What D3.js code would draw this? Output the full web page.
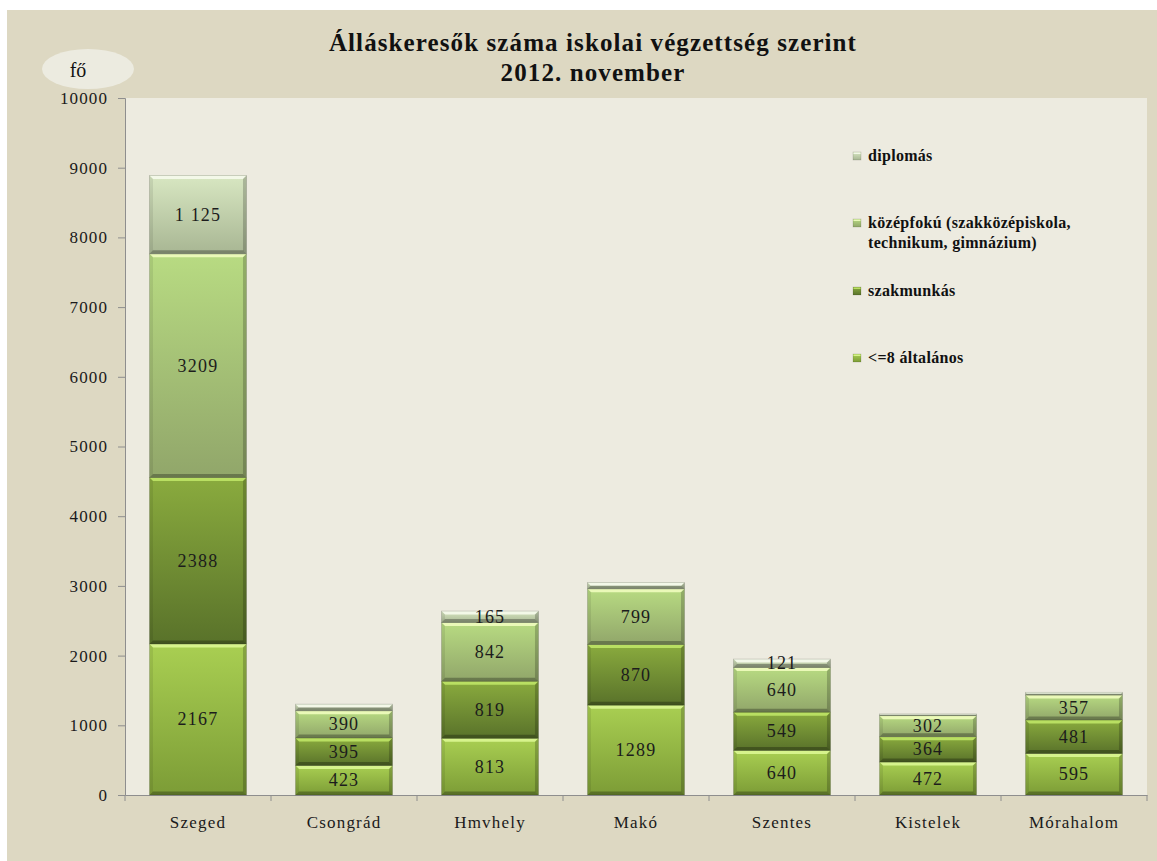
<!DOCTYPE html>
<html>
<head>
<meta charset="utf-8">
<script src="https://cdn.jsdelivr.net/npm/d3@7"></script>
<style>
  body { margin: 0; background: #fff; }
  text { font-family: 'Liberation Serif', 'Times New Roman', serif; }
</style>
</head>
<body>
<div id="graph"></div>
<script>
// data
var categories = ['Szeged', 'Csongrád', 'Hmvhely', 'Makó', 'Szentes', 'Kistelek', 'Mórahalom'];
var altalanos  = [2167, 423, 813, 1289, 640, 472, 595];
var szakmunkas = [2388, 395, 819, 870, 549, 364, 481];
var kozepfoku  = [3209, 390, 842, 799, 640, 302, 357];
var diplomas   = [1125, 95, 165, 90, 121, 25, 40];
var yTicks = [0, 1000, 2000, 3000, 4000, 5000, 6000, 7000, 8000, 9000, 10000];

var seriesKeys = ['altalanos', 'szakmunkas', 'kozepfoku', 'diplomas'];
var seriesNames = {
    altalanos: '<=8 általános',
    szakmunkas: 'szakmunkás',
    kozepfoku: ['középfokú (szakközépiskola,', 'technikum, gimnázium)'],
    diplomas: 'diplomás'
};
// top / bottom / bevel colours
var colors = {
    altalanos:  ['#a9cf52', '#7c9c36', '#d6f38c'],
    szakmunkas: ['#8aab3e', '#59722a', '#b9df62'],
    kozepfoku:  ['#b8db82', '#91a66a', '#eaf9b8'],
    diplomas:   ['#d8e7c2', '#a8b693', '#f3f8e8']
};

var table = categories.map(function(c, i) {
    return { cat: c, altalanos: altalanos[i], szakmunkas: szakmunkas[i],
             kozepfoku: kozepfoku[i], diplomas: diplomas[i] };
});

var W = 1157, H = 861;
var plot = { left: 125, top: 98, right: 1147, bottom: 795 };

var svg = d3.select('#graph')
    .append('svg')
        .attr('width', W)
        .attr('height', H);

var defs = svg.append('defs');
seriesKeys.forEach(function(k) {
    var g = defs.append('linearGradient')
        .attr('id', 'grad-' + k)
        .attr('x1', 0).attr('y1', 0).attr('x2', 0).attr('y2', 1);
    g.append('stop').attr('offset', '0%').attr('stop-color', colors[k][0]);
    g.append('stop').attr('offset', '100%').attr('stop-color', colors[k][1]);
});

// backgrounds
svg.append('rect')
    .attr('x', 7).attr('y', 10)
    .attr('width', W - 7).attr('height', H - 10)
    .attr('fill', '#ddd8c2');
svg.append('rect')
    .attr('x', plot.left).attr('y', plot.top)
    .attr('width', plot.right - plot.left).attr('height', plot.bottom - plot.top)
    .attr('fill', '#edebe0');

// title
var title = svg.append('text')
    .attr('text-anchor', 'middle')
    .attr('font-weight', 'bold')
    .attr('font-size', 25)
    .attr('letter-spacing', 1.1)
    .attr('fill', '#111');
title.append('tspan').attr('x', 593).attr('y', 51).text('Álláskeresők száma iskolai végzettség szerint');
title.append('tspan').attr('x', 593).attr('y', 81).text('2012. november');

// unit label
svg.append('ellipse')
    .attr('cx', 88).attr('cy', 69)
    .attr('rx', 46).attr('ry', 20)
    .attr('fill', '#ecebe0');
svg.append('text')
    .attr('x', 78).attr('y', 77)
    .attr('text-anchor', 'middle')
    .attr('font-size', 20)
    .attr('fill', '#111')
    .text('fő');

// scales
var x = d3.scaleBand()
    .domain(categories)
    .range([plot.left, plot.right])
    .paddingInner(0.336)
    .paddingOuter(0.168);

var y = d3.scaleLinear()
    .domain([0, 10000])
    .range([plot.bottom, plot.top]);

// y axis
var yAxis = svg.append('g')
    .attr('transform', 'translate(' + plot.left + ',0)')
    .call(d3.axisLeft(y).tickValues(yTicks).tickSize(7).tickPadding(10).tickFormat(d3.format('d')));
yAxis.select('.domain').attr('stroke', '#8e8e8e');
yAxis.selectAll('.tick line').attr('stroke', '#8e8e8e');
yAxis.selectAll('.tick text')
    .attr('font-size', 17)
    .attr('letter-spacing', 1.1)
    .attr('fill', '#1a1a1a');

// x axis
var xAxis = svg.append('g')
    .attr('transform', 'translate(0,' + plot.bottom + ')')
    .call(d3.axisBottom(x).tickSize(0).tickPadding(21));
xAxis.select('.domain').attr('stroke', '#8e8e8e');
xAxis.selectAll('.tick text')
    .attr('font-size', 17)
    .attr('letter-spacing', 1.2)
    .attr('fill', '#1a1a1a');
var bounds = categories.map(function(c) { return x(c) - x.step() * x.paddingInner() / 2; });
bounds.push(plot.right);
xAxis.selectAll('.bound')
    .data(bounds).enter().append('line')
    .attr('x1', function(d) { return d; })
    .attr('x2', function(d) { return d; })
    .attr('y1', 0).attr('y2', 6)
    .attr('stroke', '#8e8e8e');

// bars
var stack = d3.stack().keys(seriesKeys);
var stacked = stack(table);

var bw = x.bandwidth();
var layers = svg.append('g').selectAll('g.layer')
    .data(stacked).enter().append('g')
        .attr('class', 'layer');

var seg = layers.selectAll('g.seg')
    .data(function(s) { return s.map(function(d) { return { key: s.key, d: d }; }); })
    .enter().append('g')
        .attr('class', 'seg')
        .attr('transform', function(o) {
            return 'translate(' + x(o.d.data.cat) + ',' + y(o.d[1]) + ')';
        });

seg.each(function(o) {
    var g = d3.select(this);
    var h = y(o.d[0]) - y(o.d[1]);
    var b = Math.min(3.5, h / 2);
    g.append('rect')
        .attr('width', bw).attr('height', h)
        .attr('fill', 'url(#grad-' + o.key + ')');
    // top bevel
    g.append('polygon')
        .attr('points', [[0, 0], [bw, 0], [bw - b, b], [b, b]].join(' '))
        .attr('fill', colors[o.key][2]);
    // left side
    g.append('polygon')
        .attr('points', [[0, 0], [b, b], [b, h - b], [0, h]].join(' '))
        .attr('fill', '#000').attr('fill-opacity', 0.08);
    // right side
    g.append('polygon')
        .attr('points', [[bw, 0], [bw - b, b], [bw - b, h - b], [bw, h]].join(' '))
        .attr('fill', '#000').attr('fill-opacity', 0.2);
    // bottom
    g.append('polygon')
        .attr('points', [[0, h], [b, h - b], [bw - b, h - b], [bw, h]].join(' '))
        .attr('fill', '#000').attr('fill-opacity', 0.28);
    g.append('rect')
        .attr('width', bw).attr('height', h)
        .attr('fill', 'none')
        .attr('stroke', '#000').attr('stroke-opacity', 0.18)
        .attr('stroke-width', 0.8);
});

// data labels
var fmtSpace = function(v) { return d3.format(',')(v).replace(/,/g, ' '); };
seg.filter(function(o) { return o.d[1] - o.d[0] >= 100; })
    .append('text')
        .attr('x', bw / 2)
        .attr('y', function(o) { return (y(o.d[0]) - y(o.d[1])) / 2 + 6; })
        .attr('text-anchor', 'middle')
        .attr('font-size', 18)
        .attr('letter-spacing', 1.2)
        .attr('fill', '#1c1c1c')
        .text(function(o) {
            var v = o.d[1] - o.d[0];
            return o.key == 'diplomas' ? fmtSpace(v) : v;
        });

// LEGEND ---------------------------------------------------------------
var legendRows = [
    { key: 'diplomas', y: 156 },
    { key: 'kozepfoku', y: 223 },
    { key: 'szakmunkas', y: 291 },
    { key: 'altalanos', y: 358 }
];
var legend = svg.append('g');
var item = legend.selectAll('g')
    .data(legendRows).enter().append('g')
        .attr('transform', function(d) { return 'translate(853,' + d.y + ')'; });
item.append('rect')
    .attr('x', 0).attr('y', -4)
    .attr('width', 8).attr('height', 8)
    .attr('fill', function(d) { return 'url(#grad-' + d.key + ')'; })
    .attr('stroke', '#000').attr('stroke-opacity', 0.2).attr('stroke-width', 0.6);
item.append('rect')
    .attr('x', 0.5).attr('y', -3.5)
    .attr('width', 7).attr('height', 1.5)
    .attr('fill', function(d) { return colors[d.key][2]; });
item.append('text')
    .attr('x', 15)
    .attr('y', 5)
    .attr('font-size', 16)
    .attr('font-weight', 'bold')
    .attr('letter-spacing', 0.3)
    .attr('fill', '#111')
    .each(function(d) {
        var lines = [].concat(seriesNames[d.key]);
        var t = d3.select(this);
        lines.forEach(function(l, i) {
            t.append('tspan').attr('x', 15).attr('dy', i ? 20 : 0).text(l);
        });
    });
</script>
</body>
</html>
